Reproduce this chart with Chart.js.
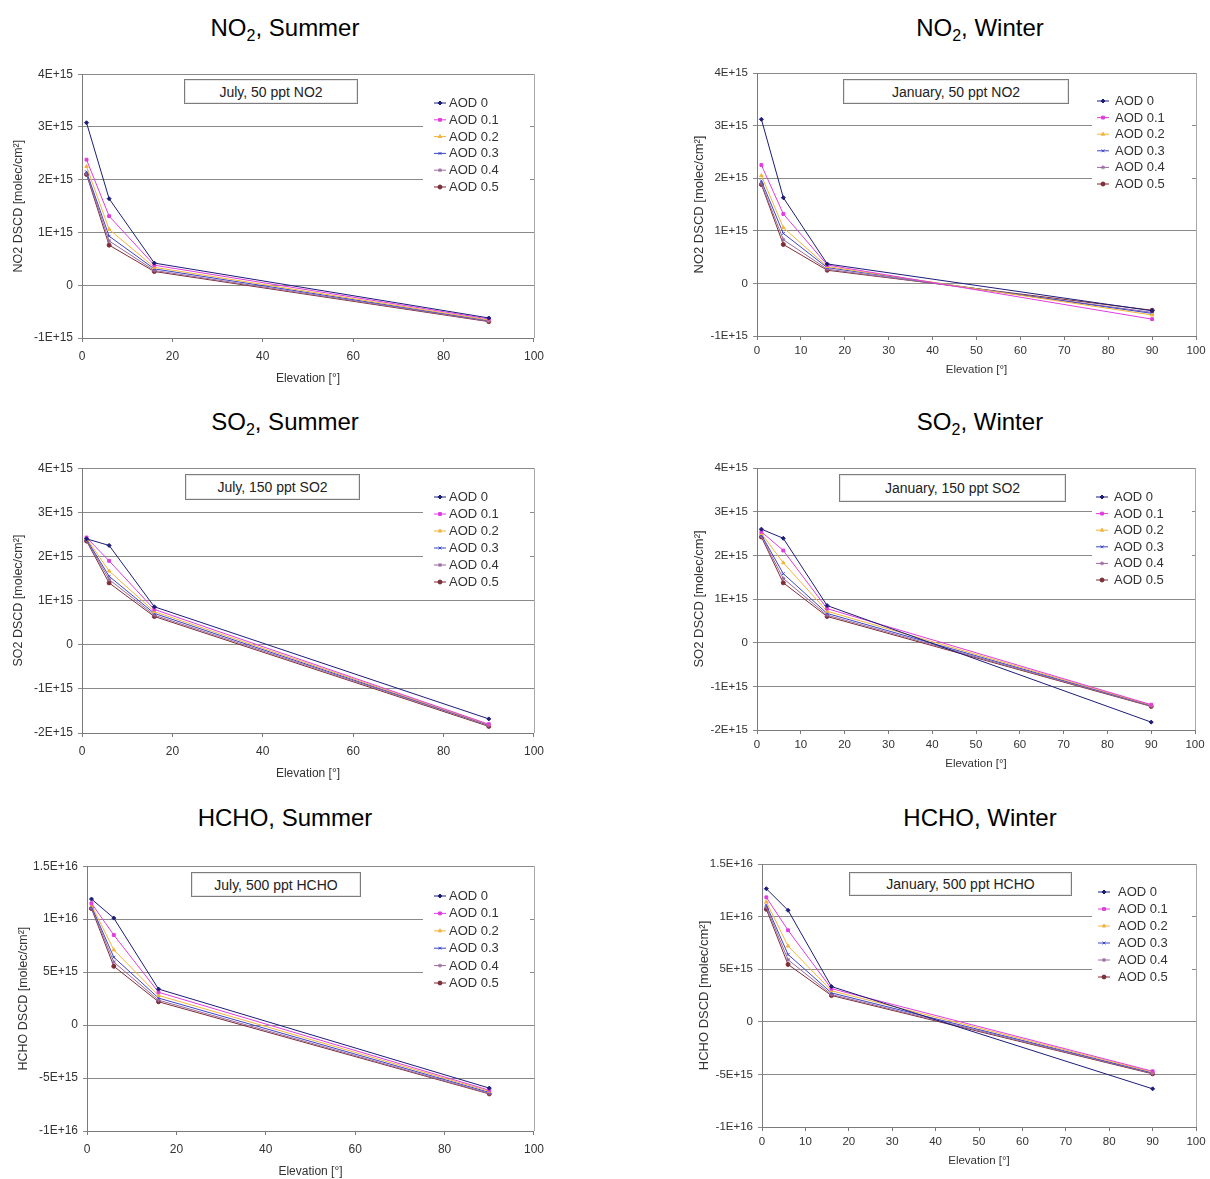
<!DOCTYPE html>
<html>
<head>
<meta charset="utf-8">
<title>DSCD vs elevation</title>
<script src="https://cdn.jsdelivr.net/npm/chart.js@4.4.1/dist/chart.umd.min.js"></script>
<style>
    html, body { margin: 0; padding: 0; background: #fff; }
    body {
        width: 1210px; height: 1179px; position: relative; overflow: hidden;
        font-family: Arial, "Liberation Sans", sans-serif;
    }
    .panel-title {
        position: absolute; width: 400px; text-align: center;
        font-size: 24px; line-height: 28px; color: #000;
    }
    .panel-title sub { font-size: 16px; line-height: 0; vertical-align: -5px; }
    canvas { position: absolute; }
    .note {
        position: absolute; box-sizing: border-box; background: #fff;
        border: 1px solid #7c7c7c; box-shadow: inset 0 0 0 1px #e6e6e6;
        font-size: 14px; color: #222;
        display: flex; align-items: center; justify-content: center;
    }
</style>
</head>
<body>
<script>
document.addEventListener("DOMContentLoaded", () => {
    // elevation angles [deg] and the six aerosol cases
    const elevation = [1, 6, 16, 90];
    const aodLabels = ["AOD 0", "AOD 0.1", "AOD 0.2", "AOD 0.3", "AOD 0.4", "AOD 0.5"];

    // DSCD [molec/cm2], one row per AOD case, one value per elevation
    const no2Summer = [
        [3.08e15, 1.64e15, 0.42e15, -0.62e15],
        [2.38e15, 1.31e15, 0.38e15, -0.64e15],
        [2.25e15, 1.06e15, 0.34e15, -0.66e15],
        [2.15e15, 0.93e15, 0.31e15, -0.67e15],
        [2.12e15, 0.84e15, 0.28e15, -0.68e15],
        [2.10e15, 0.76e15, 0.26e15, -0.69e15],
    ];
    const no2Winter = [
        [3.12e15, 1.63e15, 0.37e15, -0.52e15],
        [2.25e15, 1.32e15, 0.35e15, -0.68e15],
        [2.05e15, 1.06e15, 0.32e15, -0.60e15],
        [1.95e15, 0.95e15, 0.30e15, -0.57e15],
        [1.90e15, 0.83e15, 0.27e15, -0.55e15],
        [1.88e15, 0.74e15, 0.25e15, -0.51e15],
    ];
    const so2Summer = [
        [2.40e15, 2.25e15, 0.86e15, -1.68e15],
        [2.43e15, 1.90e15, 0.80e15, -1.80e15],
        [2.41e15, 1.67e15, 0.75e15, -1.81e15],
        [2.39e15, 1.55e15, 0.71e15, -1.82e15],
        [2.37e15, 1.48e15, 0.67e15, -1.83e15],
        [2.35e15, 1.40e15, 0.64e15, -1.85e15],
    ];
    const so2Winter = [
        [2.60e15, 2.39e15, 0.85e15, -1.82e15],
        [2.54e15, 2.11e15, 0.78e15, -1.42e15],
        [2.50e15, 1.83e15, 0.72e15, -1.43e15],
        [2.47e15, 1.58e15, 0.67e15, -1.44e15],
        [2.44e15, 1.47e15, 0.63e15, -1.45e15],
        [2.42e15, 1.37e15, 0.60e15, -1.46e15],
    ];
    const hchoSummer = [
        [11.9e15, 10.1e15, 3.40e15, -5.95e15],
        [11.5e15, 8.50e15, 3.10e15, -6.15e15],
        [11.35e15, 7.10e15, 2.80e15, -6.25e15],
        [11.2e15, 6.40e15, 2.55e15, -6.35e15],
        [11.1e15, 5.95e15, 2.35e15, -6.45e15],
        [11.0e15, 5.55e15, 2.20e15, -6.50e15],
    ];
    const hchoWinter = [
        [12.65e15, 10.6e15, 3.35e15, -6.37e15],
        [11.83e15, 8.70e15, 3.15e15, -4.70e15],
        [11.4e15, 7.20e15, 2.95e15, -4.78e15],
        [11.1e15, 6.40e15, 2.75e15, -4.85e15],
        [10.9e15, 5.90e15, 2.60e15, -4.90e15],
        [10.7e15, 5.45e15, 2.50e15, -4.95e15],
    ];

    const SERIES_COLORS = ["#1c1c7a", "#e03ce0", "#f2b43c", "#3c46c8", "#9a6a9e", "#7e2e36"];
    const POINT_STYLES = ["rectRot", "rect", "triangle", "crossRot", "star", "circle"];
    const GRID = "#8a8a8a";
    const AXIS = "#7a7a7a";
    const TEXT = "#333";
    const FONT = "Arial, 'Liberation Sans', sans-serif";

    // page layout of the six panels (plot area = [left, top, right, bottom])
    const PANELS = [
        {
            title: "NO<sub>2</sub>, Summer", titleX: 285, titleY: 28, values: no2Summer,
            yLabel: "NO2 DSCD [molec/cm²]", note: "July, 50 ppt NO2",
            yMin: -1e15, yMax: 4e15, yStep: 1e15, xStep: 20, big: true,
            plot: [82, 74, 535, 338], noteBox: [184, 79, 358, 104],
            legend: { box: [423, 93, 530, 196], lineX: 434, textX: 449, y: 103, gap: 16.8 },
        },
        {
            title: "NO<sub>2</sub>, Winter", titleX: 980, titleY: 28, values: no2Winter,
            yLabel: "NO2 DSCD [molec/cm²]", note: "January, 50 ppt NO2",
            yMin: -1e15, yMax: 4e15, yStep: 1e15, xStep: 10, big: false,
            plot: [757, 73, 1196, 336], noteBox: [843, 79, 1069, 104],
            legend: { box: [1092, 91, 1192, 193], lineX: 1097, textX: 1115, y: 101, gap: 16.6 },
        },
        {
            title: "SO<sub>2</sub>, Summer", titleX: 285, titleY: 422, values: so2Summer,
            yLabel: "SO2 DSCD [molec/cm²]", note: "July, 150 ppt SO2",
            yMin: -2e15, yMax: 4e15, yStep: 1e15, xStep: 20, big: true,
            plot: [82, 468, 535, 733], noteBox: [185, 474, 360, 500],
            legend: { box: [423, 487, 530, 592], lineX: 434, textX: 449, y: 497, gap: 17 },
        },
        {
            title: "SO<sub>2</sub>, Winter", titleX: 980, titleY: 422, values: so2Winter,
            yLabel: "SO2 DSCD [molec/cm²]", note: "January, 150 ppt SO2",
            yMin: -2e15, yMax: 4e15, yStep: 1e15, xStep: 10, big: false,
            plot: [757, 468, 1195, 730], noteBox: [839, 474, 1066, 502],
            legend: { box: [1092, 487, 1192, 590], lineX: 1096, textX: 1114, y: 497, gap: 16.6 },
        },
        {
            title: "HCHO, Summer", titleX: 285, titleY: 818, values: hchoSummer,
            yLabel: "HCHO DSCD [molec/cm²]", note: "July, 500 ppt HCHO",
            yMin: -1e16, yMax: 1.5e16, yStep: 5e15, xStep: 20, big: true,
            plot: [87, 866, 535, 1131], noteBox: [191, 872, 361, 897],
            legend: { box: [423, 885, 530, 994], lineX: 434, textX: 449, y: 896, gap: 17.4 },
        },
        {
            title: "HCHO, Winter", titleX: 980, titleY: 818, values: hchoWinter,
            yLabel: "HCHO DSCD [molec/cm²]", note: "January, 500 ppt HCHO",
            yMin: -1e16, yMax: 1.5e16, yStep: 5e15, xStep: 10, big: false,
            plot: [762, 864, 1196, 1127], noteBox: [849, 872, 1072, 896],
            legend: { box: [1092, 881, 1192, 987], lineX: 1098, textX: 1118, y: 892, gap: 17 },
        },
    ];

    const AXIS_W = 80;
    const PAD_TOP = 12;
    const PAD_RIGHT = 16;

    function sciLabel(value) {
        if (value === 0) return "0";
        const exp = Math.floor(Math.log10(Math.abs(value)) + 1e-9);
        const mant = +(value / Math.pow(10, exp)).toFixed(2);
        return mant + "E+" + exp;
    }

    function addTitle(panel) {
        const div = document.createElement("div");
        div.className = "panel-title";
        div.innerHTML = panel.title;
        div.style.left = panel.titleX - 200 + "px";
        div.style.top = panel.titleY - 14 + "px";
        document.body.appendChild(div);
    }

    function addNote(panel) {
        const [l, t, r, b] = panel.noteBox;
        const div = document.createElement("div");
        div.className = "note";
        div.textContent = panel.note;
        div.style.left = l + "px";
        div.style.top = t + "px";
        div.style.width = r - l + "px";
        div.style.height = b - t + "px";
        document.body.appendChild(div);
    }

    // right edge of the plot frame
    const framePlugin = {
        id: "plotFrame",
        beforeDatasetsDraw(chart) {
            const { ctx, chartArea: a } = chart;
            ctx.save();
            ctx.strokeStyle = "#a8a8a8";
            ctx.lineWidth = 1;
            ctx.beginPath();
            ctx.moveTo(Math.round(a.right) + 0.5, a.top);
            ctx.lineTo(Math.round(a.right) + 0.5, a.bottom);
            ctx.stroke();
            ctx.restore();
        },
    };

    function makeLegendPlugin(panel, offX, offY) {
        return {
            id: "insideLegend",
            afterDraw(chart) {
                const ctx = chart.ctx;
                const lg = panel.legend;
                const [l, t, r, b] = lg.box;
                ctx.save();
                ctx.fillStyle = "#fff";
                ctx.fillRect(l - offX, t - offY, r - l, b - t);
                ctx.font = "13px " + FONT;
                ctx.textBaseline = "middle";
                chart.data.datasets.forEach((ds, i) => {
                    const y = lg.y + i * lg.gap - offY;
                    const x0 = lg.lineX - offX;
                    ctx.strokeStyle = ds.borderColor;
                    ctx.fillStyle = ds.borderColor;
                    ctx.lineWidth = 1;
                    ctx.beginPath();
                    ctx.moveTo(x0, y);
                    ctx.lineTo(x0 + 12, y);
                    ctx.stroke();
                    if (Chart.helpers && Chart.helpers.drawPoint) {
                        Chart.helpers.drawPoint(ctx, {
                            pointStyle: ds.pointStyle, radius: 2, rotation: 0, borderWidth: 1,
                        }, x0 + 6, y);
                    } else {
                        ctx.fillRect(x0 + 4, y - 2, 4, 4);
                    }
                    ctx.fillStyle = TEXT;
                    ctx.fillText(ds.label, lg.textX - offX, y + 0.5);
                });
                ctx.restore();
            },
        };
    }

    function renderPanel(panel) {
        addTitle(panel);

        const [l, t, r, b] = panel.plot;
        const xAxisH = panel.big ? 52 : 46;
        const padLeft = panel.big ? 9 : 15;
        const offX = l - AXIS_W;
        const offY = t - PAD_TOP;
        const canvas = document.createElement("canvas");
        canvas.width = r - l + AXIS_W + PAD_RIGHT;
        canvas.height = b - t + PAD_TOP + xAxisH;
        canvas.style.left = offX + "px";
        canvas.style.top = offY + "px";
        canvas.style.width = canvas.width + "px";
        canvas.style.height = canvas.height + "px";
        document.body.appendChild(canvas);

        const tickFont = { family: FONT, size: panel.big ? 12 : 11.5 };
        const xTitleFont = { family: FONT, size: panel.big ? 12 : 11.5 };
        const yTitleFont = { family: FONT, size: panel.big ? 12.5 : 13 };

        const chartData = {
            datasets: panel.values.map((series, i) => ({
                label: aodLabels[i],
                data: series.map((v, k) => ({ x: elevation[k], y: v })),
                borderColor: SERIES_COLORS[i],
                backgroundColor: SERIES_COLORS[i],
                borderWidth: 1,
                pointStyle: POINT_STYLES[i],
                pointRadius: 2,
                pointBorderWidth: 1,
                tension: 0,
                fill: false,
            })),
        };

        new Chart(canvas.getContext("2d"), {
            type: "line",
            data: chartData,
            options: {
                responsive: false,
                animation: false,
                devicePixelRatio: 1,
                layout: { padding: { top: PAD_TOP, right: PAD_RIGHT, left: padLeft, bottom: 0 } },
                plugins: {
                    legend: { display: false },
                    tooltip: { enabled: false },
                },
                scales: {
                    x: {
                        type: "linear",
                        min: 0,
                        max: 100,
                        ticks: { stepSize: panel.xStep, font: tickFont, color: TEXT, padding: panel.big ? 7 : 4 },
                        grid: { drawOnChartArea: false, drawTicks: true, tickLength: 4, color: AXIS },
                        border: { color: AXIS },
                        title: {
                            display: true, text: "Elevation [°]", font: xTitleFont, color: TEXT,
                            padding: { top: 0, bottom: panel.big ? 4 : 5 },
                        },
                        afterFit: (scale) => { scale.height = xAxisH; },
                    },
                    y: {
                        min: panel.yMin,
                        max: panel.yMax,
                        ticks: { stepSize: panel.yStep, font: tickFont, color: TEXT, padding: 5, callback: sciLabel },
                        grid: { color: GRID, tickLength: 4 },
                        border: { color: AXIS },
                        title: {
                            display: true, text: panel.yLabel, font: yTitleFont, color: TEXT,
                            padding: { top: 0, bottom: 0 },
                        },
                        afterFit: (scale) => { scale.width = AXIS_W - padLeft; },
                    },
                },
            },
            plugins: [framePlugin, makeLegendPlugin(panel, offX, offY)],
        });

        addNote(panel);
    }

    PANELS.forEach(renderPanel);
});
</script>
</body>
</html>
